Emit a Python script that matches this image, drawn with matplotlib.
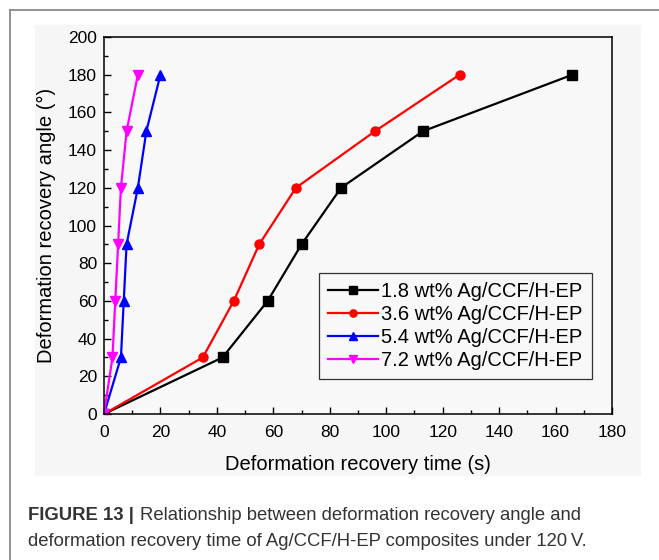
import matplotlib.pyplot as plt
from matplotlib.patches import Rectangle
from matplotlib.lines import Line2D

# recovery angle steps (degrees) shared by all samples
angle = [0, 30, 60, 90, 120, 150, 180]

# recovery time (s) for each Ag loading
t_18 = [0, 42, 58, 70, 84, 113, 166]
t_36 = [0, 35, 46, 55, 68, 96, 126]
t_54 = [0, 6, 7, 8, 12, 15, 20]
t_72 = [0, 3, 4, 5, 6, 8, 12]

labels = ["1.8 wt% Ag/CCF/H-EP", "3.6 wt% Ag/CCF/H-EP",
          "5.4 wt% Ag/CCF/H-EP", "7.2 wt% Ag/CCF/H-EP"]
colors = ["black", "red", "blue", "magenta"]
markers = ["s", "o", "^", "v"]

plt.rcParams['font.family'] = ['Liberation Sans', 'DejaVu Sans']

fig = plt.figure(figsize=(6.59, 5.6), dpi=100)

# page frame (top and left rule) and grey plate behind the chart
fig.add_artist(Line2D([10 / 659, 1], [1 - 10 / 560] * 2, color="#8a8a8a", lw=1.3))
fig.add_artist(Line2D([10 / 659] * 2, [0, 1 - 10 / 560], color="#8a8a8a", lw=1.3))
fig.add_artist(Rectangle((35 / 659, 1 - 475 / 560), 605 / 659, 450 / 560,
                         transform=fig.transFigure, color="#f6f6f6", zorder=0))

ax = fig.add_axes([104 / 659, 1 - 414 / 560, 508 / 659, 377 / 560])
ax.set_facecolor("#f8f8f8")

for t, lab, c, m in zip([t_18, t_36, t_54, t_72], labels, colors, markers):
    ax.plot(t, angle, color=c, marker=m, lw=1.6, ms=6.5, label=lab)

ax.set_xlim(0, 180)
ax.set_ylim(0, 200)
ax.set_xticks(range(0, 181, 20))
ax.set_yticks(range(0, 201, 20))
ax.set_xticks(range(10, 180, 20), minor=True)
ax.set_yticks(range(10, 200, 20), minor=True)
ax.tick_params(which="both", direction="in", top=False, right=False,
               labelsize=12.5, width=1)
ax.tick_params(which="major", length=5, pad=5)
ax.tick_params(axis="x", which="major", pad=8)
ax.tick_params(which="minor", length=3)
for s in ax.spines.values():
    s.set_linewidth(1.1)

ax.set_xlabel("Deformation recovery time (s)", fontsize=14.5, labelpad=11)
ax.set_ylabel("Deformation recovery angle (°)", fontsize=14.5, labelpad=9)

leg = ax.legend(loc="lower right", bbox_to_anchor=(0.98, 0.065), fontsize=14.5,
                frameon=True, fancybox=False, edgecolor="black",
                handlelength=2.5, handletextpad=0.15, borderpad=0.45,
                labelspacing=0.2, markerscale=0.8)
leg.get_frame().set_linewidth(0.9)
leg.get_frame().set_facecolor("#f8f8f8")

# caption
fig.text(28 / 659, 1 - 515 / 560, "FIGURE 13 |", fontsize=13.3, weight="bold",
         color="#333333", va="center")
fig.text(140 / 659, 1 - 515 / 560,
         "Relationship between deformation recovery angle and",
         fontsize=13.3, color="#333333", va="center")
fig.text(28 / 659, 1 - 541 / 560,
         "deformation recovery time of Ag/CCF/H-EP composites under 120\u2009V.",
         fontsize=13.3, color="#333333", va="center")

fig.savefig("out.png", dpi=100)
